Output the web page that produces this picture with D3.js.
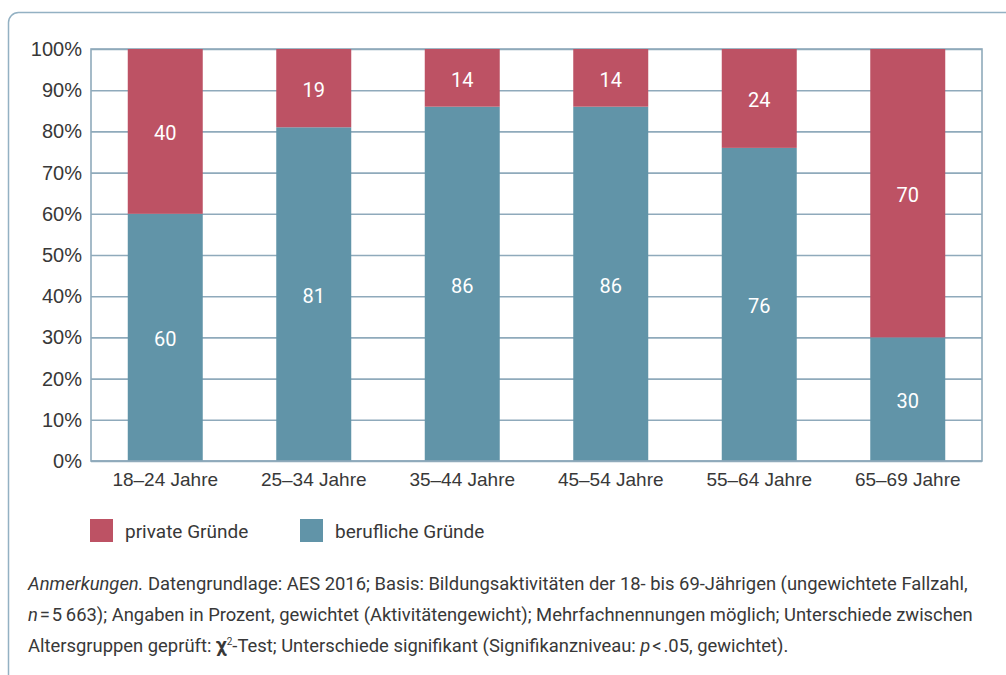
<!DOCTYPE html>
<html>
<head>
<meta charset="utf-8">
<script src="https://cdn.jsdelivr.net/npm/d3@7"></script>
<style>
  body { margin: 0; background: #fff; }
  svg { display: block; font-family: Roboto, 'Noto Sans', sans-serif; }
</style>
</head>
<body>
<div id="chart"></div>
<script>
const categories = ['18–24 Jahre', '25–34 Jahre', '35–44 Jahre', '45–54 Jahre', '55–64 Jahre', '65–69 Jahre'];
const beruflich = [60, 81, 86, 86, 76, 30];
const privat = [40, 19, 14, 14, 24, 70];
const yTicks = [0, 10, 20, 30, 40, 50, 60, 70, 80, 90, 100];
const legends = ['private Gründe', 'berufliche Gründe'];

const colors = { privat: '#bd5264', beruflich: '#6194a8', grid: '#8faabb', frame: '#93b1c3', text: '#383838' };
const W = 1006, H = 675;
const margin = { top: 49, left: 91 };
const width = 982 - margin.left;
const height = 461 - margin.top;

const svg = d3.select('#chart').append('svg')
  .attr('width', W)
  .attr('height', H);

// outer frame (only top/left visible)
svg.append('rect')
  .attr('x', 8.5).attr('y', 12.5)
  .attr('width', 1200).attr('height', 900)
  .attr('rx', 10)
  .style('fill', 'none')
  .style('stroke', colors.frame)
  .style('stroke-width', 1.5);

const g = svg.append('g')
  .attr('transform', `translate(${margin.left},${margin.top})`);

const x = d3.scaleBand().domain(categories).range([0, width]).paddingInner(0.495).paddingOuter(0.2475);
const y = d3.scaleLinear().domain([0, 100]).range([height, 0]);

/* grid + axes */
const yAxis = d3.axisLeft(y)
  .tickValues(yTicks)
  .tickSizeInner(-width)
  .tickSizeOuter(0)
  .tickPadding(9)
  .tickFormat(d => d + '%');
const yGroup = g.append('g').attr('class', 'y axis').call(yAxis);
yGroup.select('.domain').remove();
yGroup.selectAll('line').style('stroke', colors.grid).style('stroke-width', 1.6);
yGroup.selectAll('text')
  .style('font-size', '20px')
  .style('fill', colors.text);

g.append('rect')
  .attr('width', width).attr('height', height)
  .style('fill', 'none')
  .style('stroke', colors.grid)
  .style('stroke-width', 1.6);

/* bars */
const stack = categories.map((c, i) => ({ c, b: beruflich[i], p: privat[i] }));
const bar = g.append('g').selectAll('.bar')
  .data(stack)
  .enter().append('g')
  .attr('class', 'bar');
bar.append('rect')
  .attr('x', d => x(d.c))
  .attr('width', x.bandwidth())
  .attr('y', d => y(d.b))
  .attr('height', d => y(0) - y(d.b))
  .style('fill', colors.beruflich);
bar.append('rect')
  .attr('x', d => x(d.c))
  .attr('width', x.bandwidth())
  .attr('y', d => y(d.b + d.p))
  .attr('height', d => y(d.b) - y(d.b + d.p))
  .style('fill', colors.privat);
bar.append('text')
  .attr('x', d => x(d.c) + x.bandwidth() / 2)
  .attr('y', d => y(d.b / 2))
  .attr('dy', '.45em')
  .text(d => d.b);
bar.append('text')
  .attr('x', d => x(d.c) + x.bandwidth() / 2)
  .attr('y', d => y(d.b + d.p / 2))
  .attr('dy', '.45em')
  .text(d => d.p);
bar.selectAll('text')
  .style('fill', '#fff')
  .style('font-size', '20px')
  .style('text-anchor', 'middle');

// bottom axis line drawn on top of bars
g.append('line')
  .attr('x1', 0).attr('x2', width)
  .attr('y1', height).attr('y2', height)
  .style('stroke', colors.grid)
  .style('stroke-width', 1.6);

const xAxis = d3.axisBottom(x).tickSize(0).tickPadding(12);
const xGroup = g.append('g')
  .attr('transform', `translate(0,${height})`)
  .call(xAxis);
xGroup.select('.domain').remove();
xGroup.selectAll('text')
  .style('font-size', '19px')
  .style('fill', colors.text);

/* legend */
const legend = svg.append('g')
  .selectAll('.legend')
  .data(legends)
  .enter().append('g')
  .attr('class', 'legend')
  .attr('transform', (d, i) => `translate(${90 + i * 210}, 519)`);
legend.append('rect')
  .attr('width', 23).attr('height', 23)
  .style('fill', (d, i) => i ? colors.beruflich : colors.privat);
legend.append('text')
  .attr('x', 35).attr('y', 19)
  .text(d => d)
  .style('font-size', '19px')
  .style('fill', colors.text);

/* Anmerkungen */
const note = svg.append('text')
  .attr('x', 28)
  .style('font-size', '18.4px')
  .style('fill', colors.text);
const l1 = note.append('tspan').attr('x', 28).attr('y', 590);
l1.append('tspan').style('font-style', 'italic').text('Anmerkungen.');
l1.append('tspan').text(' Datengrundlage: AES 2016; Basis: Bildungsaktivitäten der 18- bis 69-Jährigen (ungewichtete Fallzahl,');
const l2 = note.append('tspan').attr('x', 28).attr('y', 621);
l2.append('tspan').style('font-style', 'italic').text('n');
l2.append('tspan').text('\u200a=\u200a5\u2009663); Angaben in Prozent, gewichtet (Aktivitätengewicht); Mehrfachnennungen möglich; Unterschiede zwischen');
const l3 = note.append('tspan').attr('x', 28).attr('y', 652);
l3.append('tspan').text('Altersgruppen geprüft: ');
l3.append('tspan').style('font-size', '20px').style('font-weight', 'bold').text('χ');
l3.append('tspan').attr('dy', -7).style('font-size', '10px').text('2');
l3.append('tspan').attr('dy', 7).text('-Test; Unterschiede signifikant (Signifikanzniveau: ');
l3.append('tspan').style('font-style', 'italic').text('p');
l3.append('tspan').text('\u200a<\u200a.05, gewichtet).');
</script>
</body>
</html>
